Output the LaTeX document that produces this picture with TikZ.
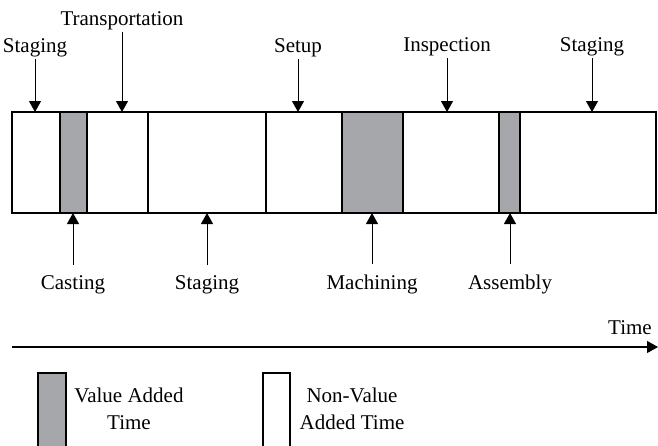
\documentclass[tikz,border=0pt]{standalone}
\usepackage{fontspec}
\setmainfont{Liberation Serif}
\usetikzlibrary{arrows.meta}
\definecolor{vagray}{RGB}{166,167,170}

\begin{document}
\begin{tikzpicture}[x=0.5pt,y=-0.5pt,
   font=\fontsize{10.5}{13.5}\selectfont,
   lbl/.style={inner sep=1pt,anchor=base},
   pointer/.style={-{Triangle[length=5.5pt,width=6pt]},line width=0.5pt},
   va/.style={draw,line width=0.65pt,fill=vagray},
   nva/.style={draw,line width=0.65pt,fill=white}]
   \useasboundingbox (0,0) rectangle (658,445);
   % the time bar
   \draw[nva] (12,112) rectangle (656,213);
   \draw[va] (60,112) rectangle (87,213);
   \draw[va] (342,112) rectangle (403,213);
   \draw[va] (499,112) rectangle (520,213);
   \draw[line width=0.65pt] (148,112) -- (148,213) (266,112) -- (266,213);
   \coordinate (top) at (0,112);
   \coordinate (bot) at (0,213);
   % labels above
   \node[lbl] (stagA) at (35,52) {Staging};
   \node[lbl] (trans) at (122,25) {Transportation};
   \node[lbl] (setup) at (298,52) {Setup};
   \node[lbl] (insp) at (447,51) {Inspection};
   \node[lbl] (stagC) at (592,51) {Staging};
   % labels below
   \node[lbl] (cast) at (73,289) {Casting};
   \node[lbl] (stagB) at (207,289) {Staging};
   \node[lbl] (mach) at (372,289) {Machining};
   \node[lbl] (assy) at (510,289) {Assembly};
   \path[pointer]
    (stagA) edge (stagA |- top)
    (trans) edge (trans |- top)
    (setup) edge (setup |- top)
    (insp) edge (insp |- top)
    (stagC) edge (stagC |- top);
   \path[pointer,shorten <=4pt]
    (cast) edge (cast |- bot)
    (stagB) edge (stagB |- bot)
    (mach) edge (mach |- bot)
    (assy) edge (assy |- bot);
   % time axis
   \coordinate (t0) at (12,347);
   \coordinate (t1) at (658,347);
   \draw[pointer,line width=0.6pt] (t0) -- (t1);
   \node[lbl] (time) at (630,334) {Time};
   % legend
   \draw[va] (38,373) rectangle (66,452);
   \draw[nva] (263,373) rectangle (290,452);
   \node[inner sep=1pt,align=center,anchor=north] (valadd) at (129,386) {Value Added\\Time};
   \node[inner sep=1pt,align=center,anchor=north] (nonval) at (352,386) {Non-Value\\Added Time};
\end{tikzpicture}
\end{document}
